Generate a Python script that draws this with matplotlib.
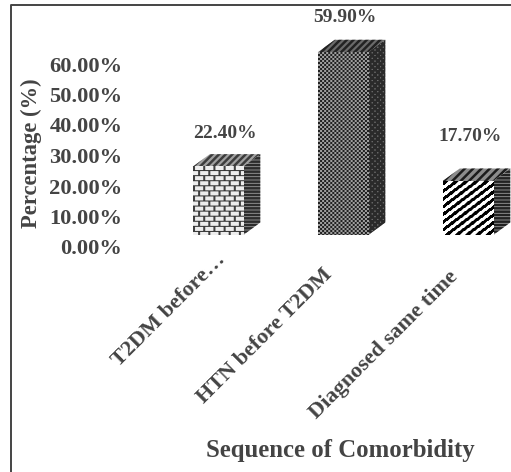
import numpy as np
import matplotlib
matplotlib.use("Agg")
import matplotlib.pyplot as plt
from matplotlib.lines import Line2D
from matplotlib.patches import Polygon
from matplotlib.transforms import ScaledTranslation

categories = ["T2DM before…", "HTN before T2DM", "Diagnosed same time"]
values = [22.4, 59.9, 17.7]
value_labels = ["22.40%", "59.90%", "17.70%"]
y_ticks = [0, 10, 20, 30, 40, 50, 60]
y_tick_labels = ["0.00%", "10.00%", "20.00%", "30.00%", "40.00%", "50.00%", "60.00%"]

W, H = 511, 472
TEXT = "#444444"
plt.rcParams["font.family"] = ["Liberation Serif", "DejaVu Serif"]
plt.rcParams["font.weight"] = "bold"
plt.rcParams["hatch.linewidth"] = 1.8


def brick(h, w):
    y, x = np.mgrid[0:h, 0:w]
    img = np.full((h, w), 0.93)
    row = y // 5
    img[y % 5 == 4] = 0.2
    img[(y % 5 != 4) & ((x + 5 * (row % 2)) % 10 < 2)] = 0.25
    return img


def checks(h, w):
    y, x = np.mgrid[0:h, 0:w]
    return np.where((x // 2 + y // 2) % 2 == 0, 0.62, 0.13)


def stripes(h, w):
    y, x = np.mgrid[0:h, 0:w]
    return np.where((x + 1.3 * y) % 10 < 5, 0.0, 1.0)


patterns = [brick, checks, stripes]
# face colour, hatch colour, hatch for the top and the side of each bar
top_styles = [("#a0a0a0", "#3c3c3c", "/////"), ("#6a6a6a", "#222222", "/////"), ("#8c8c8c", "#1c1c1c", "////")]
side_styles = [("#9a9a9a", "#2c2c2c", "-----"), ("#707070", "#2a2a2a", "xxxxxx"), ("#9a9a9a", "#222222", "-----")]
label_shift = [(7, 33), (2, 35), (2, 45)]
tick_shift = [(-3, 10), (-21, -5), (-20, -7)]

fig = plt.figure(figsize=(W / 100, H / 100), dpi=100)
ax = fig.add_axes([130 / W, (H - 235) / H, (W - 130) / W, 215 / H])
ax.set_xlim((130 - 218) / 125, (511 - 218) / 125)
ax.set_ylim(0, 215 / 3.05)
ax.patch.set_alpha(0)
for s in ax.spines.values():
    s.set_visible(False)

bar_w = 50.5 / 125
dx = 17 / 125
dy = 12.5 / 3.05
bars = ax.bar(range(3), values, width=bar_w, color="none", linewidth=0)

for i, (rect, v) in enumerate(zip(bars, values)):
    x0, x1 = rect.get_x(), rect.get_x() + rect.get_width()
    face, hatch_col, hatch = top_styles[i]
    ax.add_patch(Polygon([(x0, v), (x1, v), (x1 + dx, v + dy), (x0 + dx, v + dy)],
                         facecolor=face, edgecolor=hatch_col, hatch=hatch, linewidth=0, clip_on=False))
    face, hatch_col, hatch = side_styles[i]
    ax.add_patch(Polygon([(x1, 0), (x1 + dx, dy), (x1 + dx, v + dy), (x1, v)],
                         facecolor=face, edgecolor=hatch_col, hatch=hatch, linewidth=0, clip_on=False))
    h_px, w_px = int(round(v * 3.05)), int(round(rect.get_width() * 125))
    ax.imshow(patterns[i](h_px, w_px), cmap="gray", vmin=0, vmax=1, aspect="auto",
              extent=(x0, x1, 0, v), interpolation="bilinear", zorder=3)
    ax.annotate(value_labels[i], xy=(i, v), xytext=label_shift[i], textcoords="offset pixels",
                ha="center", va="center", fontsize=14, color=TEXT, annotation_clip=False)

ax.set_xlim((130 - 218) / 125, (511 - 218) / 125)
ax.set_ylim(0, 215 / 3.05)

ax.set_yticks(y_ticks)
ax.set_yticklabels(y_tick_labels, fontsize=16.2, color=TEXT)
ax.tick_params(axis="y", length=0, pad=5.5)
for lab in ax.get_yticklabels():
    lab.set_transform(lab.get_transform() + ScaledTranslation(0, -12 / 100, fig.dpi_scale_trans))

ax.set_xticks(range(3))
ax.set_xticklabels(categories, rotation=45, ha="right", va="top", rotation_mode="anchor",
                   fontsize=16, color=TEXT)
ax.tick_params(axis="x", length=0, pad=18)
for lab, (sx, sy) in zip(ax.get_xticklabels(), tick_shift):
    lab.set_transform(lab.get_transform() + ScaledTranslation(sx / 100, sy / 100, fig.dpi_scale_trans))

fig.text(340 / W, 1 - 450 / H, "Sequence of Comorbidity", ha="center", va="center", fontsize=17.8, color=TEXT)
fig.text(31 / W, 1 - 153 / H, "Percentage (%)", rotation=90, ha="center", va="center", fontsize=16.3, color=TEXT)

# picture border, only left and top are visible
fig.add_artist(Line2D([11 / W, 11 / W, 1], [0, 1 - 4.5 / H, 1 - 4.5 / H], color="#444444", lw=1.4))

fig.savefig("out.png", dpi=100)
